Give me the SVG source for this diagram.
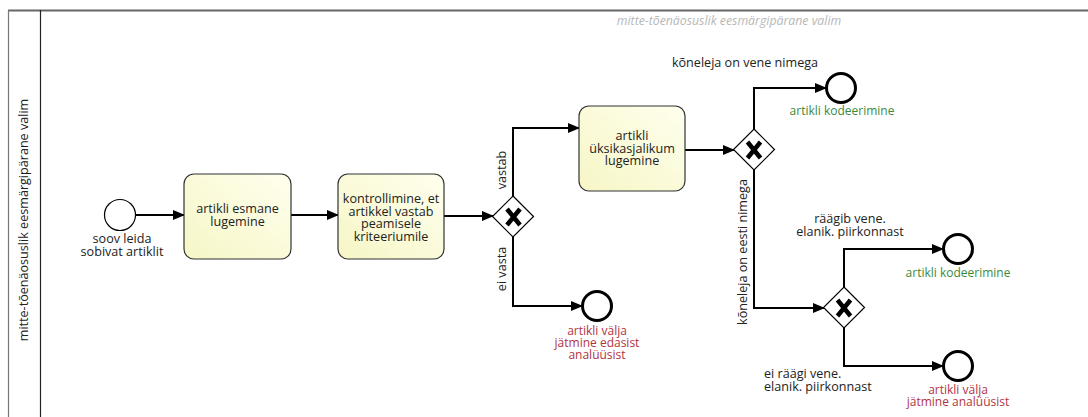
<svg xmlns="http://www.w3.org/2000/svg" width="1088" height="417" viewBox="0 0 1088 417">
<defs>
<linearGradient id="tg" x1="1" y1="0" x2="0" y2="1">
<stop offset="0" stop-color="#ffffee"/>
<stop offset="1" stop-color="#f6f6c6"/>
</linearGradient>
<marker id="ah" markerWidth="12" markerHeight="10" refX="11" refY="5" orient="auto" markerUnits="userSpaceOnUse">
<path d="M0,0 L12,5 L0,10 Z" fill="#000"/>
</marker>
</defs>
<style>
text{font-family:"Open Sans","Noto Sans","Liberation Sans",sans-serif;font-size:12.6px;fill:#222}
.c{text-anchor:middle}
.task{fill:url(#tg);stroke:#333;stroke-width:1.2}
.gw{fill:#fff;stroke:#000;stroke-width:1.2}
.x{stroke:#000;stroke-width:4.5;fill:none}
.start{fill:#fff;stroke:#000;stroke-width:1.2}
.end{fill:#fff;stroke:#000;stroke-width:3}
.flow{fill:none;stroke:#000;stroke-width:2;marker-end:url(#ah)}
.green{fill:#3a8a3a;font-size:12px}
.red{fill:#b0343f;font-size:12px}
</style>
<rect width="1088" height="417" fill="#fff"/>
<g id="pool">
<line x1="8" y1="10.5" x2="1088" y2="10.5" stroke="#666" stroke-width="2"/>
<line x1="8.5" y1="10" x2="8.5" y2="417" stroke="#777" stroke-width="1.2"/>
<line x1="40.5" y1="10" x2="40.5" y2="417" stroke="#222" stroke-width="1.2"/>
<text class="c" transform="translate(28,220) rotate(-90)">mitte-tõenäosuslik eesmärgipärane valim</text>
<text class="c" x="729" y="25" style="font-style:italic;fill:#b8b8b8;font-size:12.3px">mitte-tõenäosuslik eesmärgipärane valim</text>
</g>
<g id="connectors">
<path class="flow" d="M136,215 L184,215"/>
<path class="flow" d="M291,215 L338,215"/>
<path class="flow" d="M444,216 L493,216"/>
<path class="flow" d="M513,196 L513,128 L579,128"/>
<path class="flow" d="M513,237 L513,306 L582,306"/>
<path class="flow" d="M685,150 L734,150"/>
<path class="flow" d="M754,129 L754,88 L826,88"/>
<path class="flow" d="M754,170 L754,308 L824,308"/>
<path class="flow" d="M844,287 L844,249 L943,249"/>
<path class="flow" d="M844,328 L844,366 L943,366"/>
<text class="c" transform="translate(506,170) rotate(-90)">vastab</text>
<text class="c" transform="translate(506,269) rotate(-90)">ei vasta</text>
<text class="c" x="745" y="67">kõneleja on vene nimega</text>
<text class="c" transform="translate(747,252) rotate(-90)">kõneleja on eesti nimega</text>
<text class="c" x="850" y="223">räägib vene.<tspan x="850" dy="13">elanik. piirkonnast</tspan></text>
<text x="764" y="378">ei räägi vene.<tspan x="764" dy="13">elanik. piirkonnast</tspan></text>
</g>
<g id="start">
<circle class="start" cx="120" cy="215" r="15.5"/>
<text class="c" x="122" y="243">soov leida<tspan x="122" dy="13">sobivat artiklit</tspan></text>
</g>
<g id="task1">
<rect class="task" x="184" y="174" width="107" height="85" rx="10"/>
<text class="c" x="237.5" y="213">artikli esmane<tspan x="237.5" dy="13">lugemine</tspan></text>
</g>
<g id="task2">
<rect class="task" x="338" y="174" width="106" height="85" rx="10"/>
<text class="c" x="391" y="203">kontrollimine, et<tspan x="391" dy="12.5">artikkel vastab</tspan><tspan x="391" dy="12.5">peamisele</tspan><tspan x="391" dy="12.5">kriteeriumile</tspan></text>
</g>
<g id="gateway1">
<path class="gw" d="M513,196 L533.5,216.5 L513,237 L492.5,216.5 Z"/>
<path class="x" d="M507,209 L520,225 M520,209 L507,225"/>
</g>
<g id="task3">
<rect class="task" x="579" y="106" width="106" height="85" rx="10"/>
<text class="c" x="632" y="140">artikli<tspan x="632" dy="12.5">üksikasjalikum</tspan><tspan x="632" dy="12.5">lugemine</tspan></text>
</g>
<g id="end1">
<circle class="end" cx="597" cy="306" r="14.5"/>
<text class="c red" x="597" y="335">artikli välja<tspan x="597" dy="12">jätmine edasist</tspan><tspan x="597" dy="12">analüüsist</tspan></text>
</g>
<g id="gateway2">
<path class="gw" d="M754,129 L774.5,149.5 L754,170 L733.5,149.5 Z"/>
<path class="x" d="M747.5,142 L760.5,158 M760.5,142 L747.5,158"/>
</g>
<g id="end2">
<circle class="end" cx="841" cy="88" r="14.5"/>
<text class="c green" x="842" y="115">artikli kodeerimine</text>
</g>
<g id="gateway3">
<path class="gw" d="M844,287 L864.5,307.5 L844,328 L823.5,307.5 Z"/>
<path class="x" d="M837.5,300 L850.5,316 M850.5,300 L837.5,316"/>
</g>
<g id="end3">
<circle class="end" cx="958" cy="249" r="14.5"/>
<text class="c green" x="958" y="277">artikli kodeerimine</text>
</g>
<g id="end4">
<circle class="end" cx="958" cy="366" r="14.5"/>
<text class="c red" x="958" y="394">artikli välja<tspan x="958" dy="12">jätmine analüüsist</tspan></text>
</g>
</svg>
